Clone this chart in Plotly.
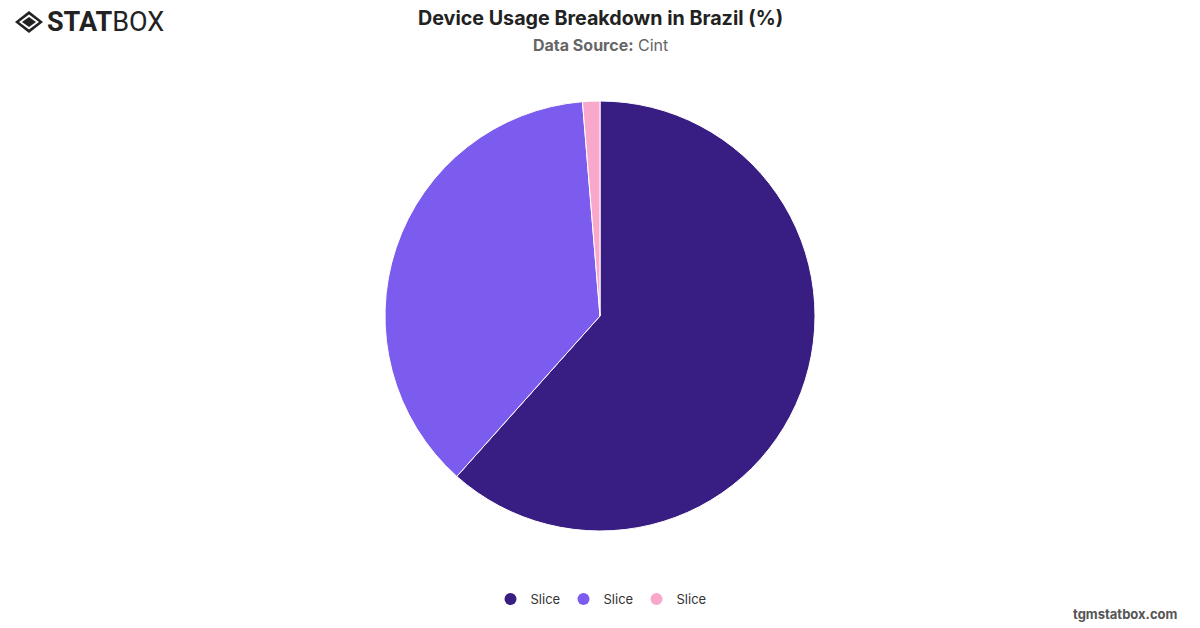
import plotly.graph_objects as go

labels = ["Slice", "Slice ", "Slice  "]
legend_names = ["Slice", "Slice", "Slice"]
values = [61.6, 37.1, 1.3]
colors = ["#381E82", "#7C5CEE", "#F9A8CC"]

title_text = "Device Usage Breakdown in Brazil (%)"
subtitle_text = "<b>Data Source:</b> Cint"
footer_text = "<b>tgmstatbox.com</b>"

W, H = 1200, 628

def px(x):
    return x / W

def py(y):
    return 1 - y / H

fig = go.Figure()
fig.add_trace(go.Pie(
    labels=labels, values=values, sort=False, direction="clockwise", rotation=0,
    marker=dict(colors=colors, line=dict(color="white", width=1)),
    textinfo="none", hoverinfo="label+percent", showlegend=False,
    domain=dict(x=[px(385), px(815)], y=[py(531), py(101)]),
))
for name, c in zip(legend_names, colors):
    fig.add_trace(go.Scatter(
        x=[None], y=[None], mode="markers", name=name,
        marker=dict(symbol="circle", size=12, color=c), showlegend=True,
    ))

def diamond(cx, cy, hw, hh):
    return f"M {px(cx-hw)} {py(cy)} L {px(cx)} {py(cy-hh)} L {px(cx+hw)} {py(cy)} L {px(cx)} {py(cy+hh)} Z"

shapes = [
    dict(type="path", xref="paper", yref="paper", path=diamond(29, 22, 14, 11), fillcolor="#222222", line=dict(width=0)),
    dict(type="path", xref="paper", yref="paper", path=diamond(29, 22, 10, 7.5), fillcolor="white", line=dict(width=0)),
    dict(type="path", xref="paper", yref="paper", path=diamond(29, 22, 7, 5), fillcolor="#222222", line=dict(width=0)),
]

annotations = [
    dict(text=f"<b>{title_text}</b>", x=0.5, y=py(18), xref="paper", yref="paper",
         showarrow=False, font=dict(family="Inter, Roboto, sans-serif", size=19.7, color="#222222"),
         xanchor="center", yanchor="middle"),
    dict(text=subtitle_text, x=0.5, y=py(45), xref="paper", yref="paper",
         showarrow=False, font=dict(family="Inter, Roboto, sans-serif", size=16, color="#666666"),
         xanchor="center", yanchor="middle"),
    dict(text=footer_text, x=px(1180), y=py(614), xref="paper", yref="paper",
         showarrow=False, font=dict(family="Inter, Roboto, sans-serif", size=13, color="#555555"),
         xanchor="right", yanchor="middle"),
    dict(text="<b>STAT</b>BOX", x=px(45), y=py(22), xref="paper", yref="paper",
         showarrow=False, font=dict(family="Roboto, Inter, sans-serif", size=27, color="#222222"),
         xanchor="left", yanchor="middle"),
]

fig.update_layout(
    width=W, height=H,
    margin=dict(l=0, r=0, t=0, b=0),
    paper_bgcolor="white", plot_bgcolor="white",
    xaxis=dict(visible=False), yaxis=dict(visible=False),
    showlegend=True,
    legend=dict(orientation="h", x=0.5, xanchor="center", y=py(599), yanchor="middle",
                font=dict(family="Inter, Roboto, sans-serif", size=13, color="#333333"),
                itemsizing="constant", entrywidth=28, entrywidthmode="pixels"),
    shapes=shapes, annotations=annotations,
)

fig.write_html("out.html")
